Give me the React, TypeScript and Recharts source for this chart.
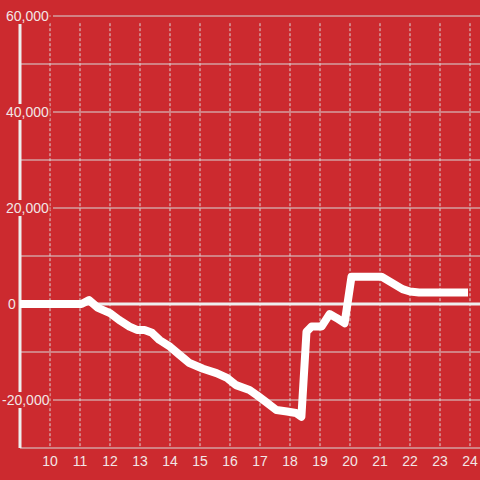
import React from "react";
import { LineChart, Line, XAxis, YAxis, ReferenceLine } from "recharts";

// hour of day vs running balance
const HOURS = [
  9, 11.05, 11.3, 11.6, 12, 12.3, 12.65, 12.9, 13.15, 13.4, 13.65, 14, 14.3, 14.65, 15.1,
  15.55, 15.9, 16.2, 16.65, 16.9, 17.2, 17.55, 17.9, 18.2, 18.38, 18.55, 18.72, 19.05,
  19.32, 19.55, 19.82, 20.05, 21.05, 21.4, 21.75, 22, 22.3, 23.8,
];
const BALANCE = [
  0, 0, 800, -800, -1900, -3300, -4700, -5400, -5400, -6000, -7500, -8900, -10500, -12300,
  -13500, -14400, -15400, -16900, -17900, -19000, -20400, -22100, -22400, -22700, -23500,
  -5800, -4700, -4700, -2100, -2900, -4000, 5700, 5700, 4400, 3100, 2600, 2400, 2400,
];
const X_TICKS = [10, 11, 12, 13, 14, 15, 16, 17, 18, 19, 20, 21, 22, 23, 24];
const Y_TICKS = [60000, 40000, 20000, 0, -20000];
const GRID_Y = [60000, 50000, 40000, 30000, 20000, 10000, -10000, -20000, -30000];

const BG = "#cc2a2f";
const TEXT = "#f2e6e6";
const GRID = "#d8d8d8";

const data = HOURS.map((h, i) => ({ h, v: BALANCE[i] }));

function YTick(props: any) {
  const { y, payload } = props;
  const v = payload.value as number;
  const x = v < 0 ? 2 : v === 0 ? 8 : 6;
  return (
    <g>
      {v === 0 ? (
        <rect x={0} y={y - 8} width={16} height={16} fill={BG} />
      ) : (
        <>
          <rect x={0} y={y - 8} width={49.5} height={16} fill={BG} />
          <rect x={50.6} y={y - 2} width={2.4} height={4} fill={BG} />
        </>
      )}
      <text x={x} y={y} dy="0.36em" textAnchor="start" fill={TEXT} fontSize={14}>
        {v.toLocaleString("en-US")}
      </text>
    </g>
  );
}

export default function App() {
  return (
    <div
      style={{
        position: "fixed",
        left: 0,
        top: 0,
        width: 480,
        height: 480,
        background: BG,
        fontFamily: "'Liberation Sans', Arial, sans-serif",
      }}
    >
      <LineChart width={480} height={480} data={data} margin={{ top: 16, right: 0, bottom: 0, left: 0 }}>
        <XAxis
          dataKey="h"
          type="number"
          domain={[9, 24.3333]}
          ticks={X_TICKS}
          allowDataOverflow
          height={32}
          axisLine={false}
          tickLine={false}
          tick={{ fill: TEXT, fontSize: 14 }}
        />
        <YAxis
          type="number"
          domain={[-30000, 60000]}
          ticks={Y_TICKS}
          width={20}
          axisLine={false}
          tickLine={false}
          tick={<YTick />}
        />
        {GRID_Y.map((g) => (
          <ReferenceLine key={"g" + g} y={g} stroke={GRID} strokeWidth={1} />
        ))}
        {X_TICKS.map((t) => (
          <ReferenceLine
            key={"v" + t}
            segment={[
              { x: t, y: 58500 },
              { x: t, y: -29600 },
            ]}
            stroke={GRID}
            strokeWidth={1}
            strokeDasharray="3 2"
          />
        ))}
        <ReferenceLine x={9} stroke="#eeeeee" strokeWidth={3} />
        <ReferenceLine y={0} stroke="#eeeeee" strokeWidth={3} />
        <Line
          dataKey="v"
          type="linear"
          stroke="#ffffff"
          strokeWidth={8}
          strokeLinecap="square"
          strokeLinejoin="round"
          dot={false}
          isAnimationActive={false}
        />
      </LineChart>
    </div>
  );
}
